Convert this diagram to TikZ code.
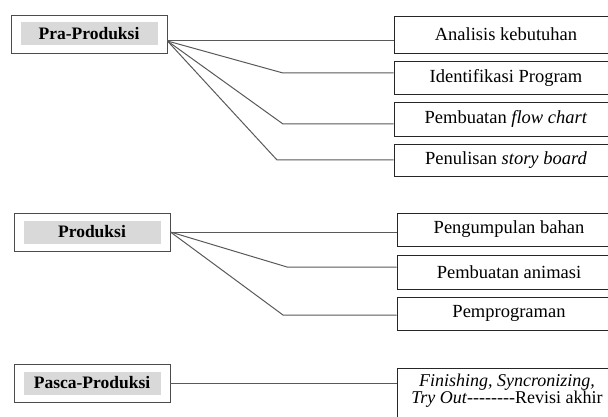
\documentclass[tikz,border=0pt]{standalone}
\usepackage{fontspec}
\setmainfont{Liberation Serif}
\tikzset{
    phase/.style={draw=black!70, line width=0.9pt, minimum width=156pt, minimum height=38pt, inner sep=0pt},
    phasetag/.style={fill=black!15, minimum width=137pt, minimum height=23pt, inner sep=0pt, font=\fontsize{17.5}{20}\bfseries},
    task/.style={draw=black!85, line width=0.9pt, minimum width=224pt, inner sep=0pt},
    link/.style={draw=black!65, line width=1pt}
}
\begin{document}
\begin{tikzpicture}[x=1pt,y=-1pt,font=\fontsize{18.5}{20}\selectfont]
    \clip (0,0) rectangle (608,417);
    % phases on the left
    \node[phase] (pra) at (89,34) {};
    \node[phasetag] (pra-tag) at (pra) {Pra-Produksi};
    \node[phase] (prod) at (92,232) {};
    \node[phasetag] (prod-tag) at (prod) {Produksi};
    \node[phase] (pasca) at (92,383) {};
    \node[phasetag] (pasca-tag) at (pasca) {Pasca-Produksi};

    % tasks on the right
    \foreach \nm/\yc/\hh/\txt in {ana/34.5/37/{Analisis kebutuhan}, iden/77.5/33/{Identifikasi Program},
        flow/119/34/{Pembuatan \emph{flow chart}}, story/160/32/{Penulisan \emph{story board}}}{
      \node[task, minimum height=\hh] (\nm) at (506,\yc) {\txt};
    }
    \foreach \nm/\yc/\hh/\txt in {bahan/229.5/33/{Pengumpulan bahan}, anim/272/34/{Pembuatan animasi},
        prog/313.5/33/{Pemprograman}}{
      \node[task, minimum height=\hh] (\nm) at (509,\yc) {\txt};
    }
    \node[task, minimum height=60, anchor=north west] (fin) at (397,368) {};
    \node[align=center, font=\fontsize{18}{17}\selectfont] (fin-txt) at (507,391)
        {\emph{Finishing, Syncronizing,}\\ \emph{Try Out}-{}-{}-{}-{}-{}-{}-{}-Revisi akhir};

    % connectors
    \coordinate (pra-o) at ([yshift=-7pt]pra.east);
    \draw[link] (pra-o) -- (pra-o -| ana.west);
    \foreach \nm/\bx/\by in {iden/283/73, flow/283/124, story/277/160}{
      \coordinate (bend) at (\bx,\by);
      \draw[link] (pra-o) -- (bend) -- (bend -| \nm.west);
    }
    \coordinate (prod-o) at (prod.east);
    \draw[link] (prod-o) -- (prod-o -| bahan.west);
    \foreach \nm/\bx/\by in {anim/287/267, prog/283/315}{
      \coordinate (bend) at (\bx,\by);
      \draw[link] (prod-o) -- (bend) -- (bend -| \nm.west);
    }
    \draw[link] (pasca.east) -- (pasca.east -| fin.west);
\end{tikzpicture}
\end{document}
